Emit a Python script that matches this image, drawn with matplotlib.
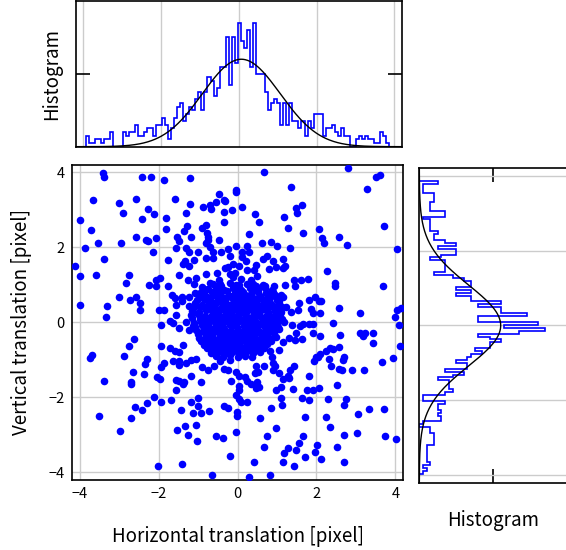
import numpy as np
import matplotlib
matplotlib.use('Agg')
import matplotlib.pyplot as plt

plt.rcParams['font.family'] = ['Noto Sans CJK JP', 'DejaVu Sans']

# scatter points (horizontal, vertical) shift in pixels
pairs = [
    # dense centre
    (-0.62,1.02),(-0.41,0.97),(-0.19,1.04),(0.03,0.99),(0.24,1.03),(0.46,0.96),(0.65,1.01),
    (-0.76,0.88),(-0.55,0.93),(-0.34,0.87),(-0.11,0.91),(0.08,0.86),(0.31,0.92),(0.51,0.88),(0.69,0.93),(0.87,0.87),
    (-0.86,0.78),(-0.65,0.82),(-0.46,0.77),(-0.27,0.83),(-0.06,0.79),(0.14,0.81),(0.34,0.76),(0.53,0.82),(0.71,0.78),(0.91,0.81),
    (-0.96,0.71),(-0.77,0.68),(-0.58,0.72),(-0.39,0.67),(-0.2,0.71),(0.01,0.69),(0.19,0.73),(0.37,0.68),(0.58,0.71),(0.77,0.67),(0.94,0.72),
    (-1.03,0.59),(-0.85,0.62),(-0.67,0.58),(-0.49,0.61),(-0.32,0.57),(-0.12,0.62),(0.05,0.58),(0.25,0.61),(0.43,0.57),(0.61,0.62),(0.81,0.59),(0.99,0.61),
    (-1.08,0.51),(-0.91,0.47),(-0.72,0.52),(-0.56,0.48),(-0.37,0.52),(-0.21,0.47),(-0.01,0.51),(0.16,0.48),(0.33,0.52),(0.51,0.47),(0.67,0.51),(0.86,0.48),(1.04,0.52),
    (-1.12,0.38),(-0.94,0.42),(-0.78,0.37),(-0.6,0.41),(-0.43,0.38),(-0.24,0.42),(-0.07,0.37),(0.1,0.41),(0.28,0.38),(0.44,0.42),(0.63,0.39),(0.79,0.41),(0.98,0.37),(1.13,0.42),
    (-1.15,0.31),(-0.97,0.28),(-0.81,0.32),(-0.62,0.27),(-0.46,0.31),(-0.27,0.28),(-0.11,0.32),(0.08,0.27),(0.23,0.31),(0.42,0.29),(0.59,0.32),(0.77,0.28),(0.94,0.31),(1.1,0.27),
    (-1.18,0.19),(-1.0,0.22),(-0.83,0.18),(-0.65,0.21),(-0.49,0.17),(-0.3,0.22),(-0.13,0.19),(0.04,0.22),(0.22,0.18),(0.41,0.21),(0.56,0.17),(0.75,0.21),(0.92,0.18),(1.08,0.22),
    (-1.15,0.11),(-0.96,0.08),(-0.8,0.12),(-0.63,0.09),(-0.44,0.12),(-0.27,0.08),(-0.09,0.11),(0.08,0.07),(0.26,0.12),(0.43,0.09),(0.61,0.11),(0.78,0.08),(0.96,0.12),(1.13,0.09),
    (-1.1,-0.01),(-0.92,0.02),(-0.75,-0.02),(-0.57,0.01),(-0.4,-0.03),(-0.22,0.02),(-0.05,-0.01),(0.13,0.03),(0.3,-0.02),(0.48,0.01),(0.65,-0.03),(0.83,0.02),(1.0,-0.01),(1.17,0.02),
    (-1.08,-0.11),(-0.9,-0.08),(-0.73,-0.12),(-0.54,-0.09),(-0.37,-0.12),(-0.19,-0.08),(-0.02,-0.11),(0.16,-0.09),(0.33,-0.12),(0.5,-0.08),(0.69,-0.11),(0.86,-0.09),(1.03,-0.12),
    (-1.05,-0.19),(-0.87,-0.22),(-0.7,-0.18),(-0.52,-0.21),(-0.34,-0.18),(-0.16,-0.22),(0.01,-0.19),(0.19,-0.21),(0.36,-0.17),(0.54,-0.22),(0.71,-0.19),(0.88,-0.21),(1.06,-0.18),
    (-1.0,-0.31),(-0.83,-0.28),(-0.65,-0.32),(-0.47,-0.29),(-0.3,-0.31),(-0.12,-0.27),(0.06,-0.32),(0.23,-0.28),(0.4,-0.31),(0.58,-0.29),(0.75,-0.32),(0.92,-0.28),
    (-0.97,-0.41),(-0.8,-0.38),(-0.61,-0.42),(-0.44,-0.39),(-0.26,-0.41),(-0.08,-0.38),(0.1,-0.42),(0.27,-0.39),(0.45,-0.41),(0.62,-0.38),(0.8,-0.42),(0.97,-0.39),
    (-0.92,-0.49),(-0.74,-0.52),(-0.56,-0.48),(-0.38,-0.51),(-0.2,-0.49),(-0.02,-0.52),(0.15,-0.48),(0.33,-0.51),(0.5,-0.48),(0.68,-0.52),(0.86,-0.49),
    (-0.85,-0.61),(-0.67,-0.58),(-0.49,-0.62),(-0.32,-0.59),(-0.14,-0.61),(0.04,-0.58),(0.21,-0.62),(0.39,-0.59),(0.56,-0.61),(0.74,-0.58),
    (-0.78,-0.69),(-0.6,-0.72),(-0.42,-0.68),(-0.24,-0.71),(-0.06,-0.69),(0.12,-0.72),(0.3,-0.68),(0.48,-0.71),(0.66,-0.69),
    (-0.68,-0.81),(-0.5,-0.78),(-0.32,-0.82),(-0.14,-0.79),(0.04,-0.81),(0.22,-0.78),(0.4,-0.82),(0.58,-0.79),
    (-0.55,-0.89),(-0.37,-0.92),(-0.18,-0.88),(0.0,-0.91),(0.18,-0.89),(0.36,-0.92),
    (-0.7,0.65),(-0.52,0.55),(-0.3,0.66),(-0.1,0.54),(0.12,0.65),(0.32,0.55),(0.52,0.66),(0.7,0.55),
    (-0.68,0.35),(-0.5,0.25),(-0.33,0.35),(-0.18,0.24),(0.0,0.34),(0.17,0.24),(0.35,0.35),(0.52,0.24),(0.7,0.35),
    (-0.7,0.05),(-0.48,-0.05),(-0.3,0.05),(-0.12,-0.06),(0.05,0.05),(0.22,-0.05),(0.4,0.05),(0.58,-0.05),(0.74,0.05),
    (-0.62,-0.25),(-0.42,-0.35),(-0.22,-0.25),(-0.04,-0.35),(0.14,-0.25),(0.32,-0.35),(0.48,-0.25),(0.66,-0.35),
    (-0.5,-0.55),(-0.28,-0.65),(-0.1,-0.55),(0.08,-0.65),(0.26,-0.55),(0.44,-0.65),(0.6,-0.55),
    (-0.88,0.45),(-0.86,0.15),(-0.84,-0.15),(-0.8,-0.45),(0.9,0.45),(0.88,0.15),(0.9,-0.15),(0.86,-0.45),
    (-0.45,0.85),(0.0,0.82),(0.42,0.86),(-0.45,-0.75),(0.0,-0.78),(0.42,-0.76),
    (-0.2,0.44),(0.2,0.45),(-0.22,-0.44),(0.2,-0.45),(-0.38,0.15),(0.36,0.14),(-0.36,-0.15),(0.34,-0.16),
    # outer points
    (-3.42,3.98),(-3.39,3.87),(-2.42,3.89),(-2.20,3.88),(-1.86,3.79),(-1.21,3.85),(0.68,4.0),(2.81,4.11),
    (3.52,3.88),(3.62,3.93),(3.28,3.56),(1.35,3.61),(-0.04,3.52),(-0.04,3.47),(-0.47,3.43),(-3.67,3.27),
    (-2.58,3.29),(-1.58,3.30),(-3.01,3.18),(-1.20,3.16),(-0.55,3.21),(-0.69,3.14),(-0.35,3.27),(-0.31,3.24),
    (-0.88,3.08),(0.12,3.08),(1.63,3.14),(1.47,3.05),(-0.68,3.02),(-2.26,3.02),(-2.89,2.92),(-2.11,2.90),
    (-1.31,2.93),(-0.35,2.95),(-0.15,2.99),(0.45,2.90),(1.50,2.92),(-3.99,2.72),(-2.43,2.76),(-1.82,2.78),
    (0.55,2.67),(-0.34,2.68),(1.18,2.81),(-1.82,2.50),(-1.28,2.56),(-0.89,2.53),(-0.81,2.59),(-1.36,2.45),
    (1.27,2.52),(2.06,2.49),(3.71,2.58),(-3.72,2.47),(0.30,2.36),(1.67,2.38),(-0.78,2.38),(-0.75,2.28),
    (-2.58,2.29),(-1.53,2.28),(-1.19,2.29),(-2.32,2.20),(-2.26,2.16),(-2.06,2.24),(-1.47,2.16),(2.14,2.26),
    (2.58,2.28),(2.19,2.12),(-0.47,2.19),(-0.79,2.12),(-0.74,2.19),(-3.54,2.12),(-2.95,2.13),(-1.57,1.98),
    (-1.30,1.98),(-1.24,1.89),(-1.00,1.89),(-3.86,1.98),(-2.14,1.88),(-0.69,2.01),(-0.62,1.89),(-0.23,1.96),
    (-0.03,2.04),(0.24,2.04),(0.63,2.12),(0.86,2.15),(0.99,2.03),(1.33,1.98),(2.77,2.07),(4.03,1.96),
    (-3.37,1.69),(-1.77,1.67),(-1.10,1.67),(-0.79,1.71),(-0.62,1.71),(-0.42,1.87),(-0.19,1.76),(0.11,1.89),
    (0.30,1.88),(0.12,1.74),(0.64,1.69),(0.74,1.78),(0.91,1.65),(1.16,1.69),(-1.34,1.63),(-1.37,1.56),
    (-1.22,1.51),(-4.11,1.51),(-0.23,1.49),(-0.32,1.45),(-0.11,1.56),(0.04,1.51),(0.21,1.65),(0.47,1.53),
    (0.79,1.43),(0.98,1.49),(1.14,1.45),(1.19,1.51),(-3.58,1.27),(-3.99,1.24),(-2.74,1.27),(-1.49,1.27),
    (-0.81,1.30),(-0.52,1.32),(-0.19,1.30),(-0.06,1.32),(0.23,1.40),(0.42,1.39),(-2.06,1.12),(-1.97,1.18),
    (-1.26,1.14),(-1.05,1.18),(-0.47,1.14),(-0.11,1.21),(0.08,1.16),(0.35,1.12),(0.50,1.23),(1.43,1.12),
    (1.62,1.12),(1.79,1.16),(2.26,1.37),(-2.82,1.05),(-2.25,1.00),(-2.06,0.96),(-1.75,0.98),(-1.10,1.03),
    (-0.90,0.94),(-0.84,0.89),(-0.69,1.05),(-0.45,1.03),(-0.03,1.00),(0.40,1.03),(0.69,0.98),(0.92,0.98),
    (1.21,1.01),(1.46,0.96),(2.46,1.05),(2.48,0.98),(3.68,0.96),(-3.99,0.47),(-2.99,0.69),(-2.72,0.59),
    (-2.57,0.68),(-2.47,0.52),(-2.48,0.32),(-3.31,0.43),(-3.33,0.14),(-1.67,0.74),(-1.58,0.65),(-1.40,0.69),
    (-1.08,0.78),(-0.92,0.80),(-0.86,0.87),(-1.56,0.47),(-1.41,0.56),(-1.23,0.69),(-1.23,0.43),(-1.99,0.32),
    (-1.87,0.34),(-1.93,-0.06),(-1.70,0.05),(-1.64,-0.02),(-1.56,0.20),(-1.47,-0.15),(-1.31,0.0),(-1.23,-0.21),
    (-1.13,-0.09),(1.22,0.41),(1.55,0.53),(1.80,0.60),(1.95,0.68),(2.06,0.56),(2.12,0.56),(1.86,0.36),
    (1.90,0.25),(2.08,0.25),(2.58,0.39),(1.53,0.34),(1.35,0.29),(1.04,0.60),(0.97,0.68),(0.84,0.80),
    (0.82,0.69),(1.14,0.69),(1.10,0.74),(3.09,0.25),(4.04,0.34),(4.13,0.38),(4.0,0.14),(4.08,-0.06),
    (4.11,-0.62),(3.94,-0.95),(3.66,-1.06),(2.43,-0.02),(2.60,-0.33),(2.08,-0.35),(1.92,-0.28),(1.92,-0.04),
    (1.80,-0.04),(1.67,-0.04),(1.57,-0.09),(1.37,-0.06),(1.64,-0.44),(1.46,-0.46),(1.30,-0.42),(1.48,-0.28),
    (3.11,-0.28),(3.19,-0.37),(3.24,-0.28),(3.43,-0.28),(3.43,-0.55),(2.35,-0.68),(2.25,-0.75),(2.43,-0.71),
    (2.58,-0.66),(2.69,-0.92),(2.68,-1.00),(2.10,-0.84),(2.0,-0.92),(1.93,-1.04),(2.05,-0.92),(2.31,-0.97),
    (2.56,-1.24),(2.64,-1.26),(2.90,-1.28),(3.21,-1.26),(2.53,-1.68),(2.36,-1.17),(1.80,-1.42),(1.33,-1.28),
    (1.44,-1.16),(1.28,-1.42),(1.31,-1.48),(1.16,-1.51),(1.10,-1.71),(1.40,-1.78),(1.77,-1.80),(1.92,-1.80),
    (2.07,-1.76),(1.63,-2.02),(1.80,-2.06),(2.29,-2.03),(2.76,-2.03),(2.69,-2.20),(3.33,-2.31),(3.70,-2.31),
    (3.04,-2.44),(1.71,-2.52),(2.24,-2.51),(2.33,-2.80),(2.52,-3.31),(2.69,-3.00),(3.03,-2.95),(3.73,-3.02),
    (4.01,-3.10),(2.01,-3.26),(1.97,-3.46),(2.11,-3.64),(2.69,-3.72),(1.65,-3.04),(1.56,-3.22),(1.48,-3.41),
    (1.70,-3.60),(1.42,-3.84),(1.27,-3.36),(1.18,-3.48),(1.14,-3.73),(0.97,-2.81),(0.86,-2.28),(0.74,-3.04),
    (0.68,-3.31),(0.82,-4.06),(0.30,-4.13),(0.42,-3.73),(0.57,-2.54),(-0.04,-2.93),(-0.01,-2.49),(-0.01,-2.40),
    (-0.18,-3.56),(-0.36,-3.09),(-0.55,-3.02),(-0.65,-4.06),(-0.72,-2.37),(-0.24,-2.28),(-0.34,-2.24),(0.04,-2.04),
    (0.08,-2.13),(0.23,-2.13),(-0.03,-1.93),(0.04,-1.80),(0.05,-1.69),(-0.17,-1.57),(-0.92,-2.42),(-1.0,-2.24),
    (-0.99,-2.02),(-1.13,-2.42),(-1.19,-2.13),(-1.04,-2.73),(-1.02,-3.17),(-1.25,-2.99),(-1.34,-2.77),(-1.53,-2.88),
    (-1.40,-3.77),(-1.44,-2.33),(-1.68,-2.06),(-1.95,-2.13),(-2.12,-1.99),(-2.30,-2.15),(-2.42,-2.33),(-2.60,-2.26),
    (-2.71,-2.54),(-2.97,-2.89),(-3.50,-2.49),(-2.01,-3.84),(-3.39,-1.57),(-2.71,-1.60),(-2.69,-1.64),(-2.64,-1.32),
    (-2.36,-1.38),(-2.30,-0.98),(-2.35,-1.10),(-1.95,-1.19),(-1.87,-1.07),(-2.03,-1.46),(-1.97,-1.50),(-1.57,-1.80),
    (-1.57,-1.53),(-1.47,-1.55),(-1.38,-1.64),(-1.35,-1.60),(-1.64,-1.02),(-1.49,-1.13),(-1.47,-1.04),(-1.19,-1.42),
    (-0.92,-1.58),(-1.30,-1.07),(-1.19,-1.00),(-1.04,-0.97),(-3.73,-0.95),(-3.68,-0.86),(-2.88,-0.89),(-2.75,-0.62),
    (-2.63,-0.44),(-1.72,-0.68),(-1.58,-0.77),(-1.47,-0.80),(-1.37,-0.60),(-1.93,-0.64),(-0.93,-0.46),(-0.91,-1.19),
    (-0.75,-1.26),(-0.60,-1.16),(-0.45,-1.04),(-0.35,-1.24),(-0.24,-1.28),(-0.19,-1.00),(-0.05,-1.33),(0.04,-1.44),
    (0.20,-1.46),(0.25,-1.57),(0.33,-1.64),(0.47,-1.76),(0.55,-1.71),(0.50,-1.60),(0.44,-1.35),(0.48,-1.16),
    (0.67,-1.17),(0.89,-1.07),(0.89,-1.28),(0.96,-1.17),(1.06,-1.35),(0.97,-1.80),(1.09,-2.02),(1.13,-2.20),
    (0.87,-0.91),(0.82,-0.77),(1.14,-0.53),(1.04,-0.73),(0.53,-1.33),
]
shift_x = [p[0] for p in pairs]
shift_y = [p[1] for p in pairs]

# top histogram (horizontal shift), 100 bins, counts
top_lo, top_hi = -3.93, 3.87
top_counts = [3, 1, 1, 2, 2, 1, 2, 2, 4, 0, 0, 0, 4, 3, 4, 4, 6, 3, 3, 4,
              5, 5, 3, 6, 6, 8, 6, 2, 5, 8, 11, 12, 7, 9, 11, 10, 13, 15, 10, 15,
              19, 18, 14, 16, 22, 22, 30, 17, 30, 23, 34, 29, 27, 32, 22, 34, 20, 20, 20, 15,
              10, 12, 13, 12, 6, 12, 6, 12, 7, 7, 5, 7, 3, 7, 5, 9, 9, 9, 3, 5,
              5, 6, 4, 3, 5, 3, 3, 0, 0, 2, 3, 2, 3, 2, 2, 1, 1, 4, 3, 1]
top_fit = (0.06, 1.0, 24.0)   # mean, sigma, peak

# right histogram (vertical shift), listed from top bin to bottom bin
right_lo, right_hi = -3.97, 3.85
right_counts_top_down = [5, 1, 1, 1, 4, 4, 4, 3, 3, 3, 7, 7, 1, 3, 3, 3, 3, 5, 4, 4,
                         7, 10, 5, 10, 10, 6, 3, 7, 7, 7, 7, 4, 9, 12, 14, 14, 10, 14, 10, 14,
                         14, 22, 16, 22, 22, 29, 16, 16, 32, 23, 34, 27, 16, 19, 22, 19, 19, 15, 17, 14,
                         13, 10, 13, 13, 7, 12, 9, 5, 8, 8, 8, 9, 7, 1, 1, 7, 5, 5, 6, 5,
                         6, 6, 1, 0, 3, 3, 4, 4, 4, 4, 2, 2, 2, 2, 2, 2, 3, 1, 2, 1]
right_fit = (0.0, 1.08, 22.0)

lim = 4.2
hist_max = 40

fig = plt.figure(figsize=(5.66, 5.5), dpi=100)
ax = fig.add_axes([0.1267, 0.1273, 0.5859, 0.5727])
ax_top = fig.add_axes([0.1337, 0.7333, 0.577, 0.265])
ax_right = fig.add_axes([0.7408, 0.1224, 0.2615, 0.5716])

grid_kw = dict(color='#cccccc', linewidth=1.0)

# main scatter
ax.scatter(shift_x, shift_y, s=30, color='blue', linewidths=0, zorder=3)
ax.set_xlim(-lim, lim)
ax.set_ylim(-lim, lim)
ax.set_xticks([-4, -2, 0, 2, 4])
ax.set_yticks([-4, -2, 0, 2, 4])
ax.grid(True, **grid_kw)
ax.set_axisbelow(True)
ax.tick_params(direction='in', length=0, labelsize=10.5, pad=5)
ax.set_xlabel('Horizontal translation [pixel]', fontsize=13.5, labelpad=18)
ax.set_ylabel('Vertical translation [pixel]', fontsize=13.5, labelpad=12)

# top histogram
edges = np.linspace(top_lo, top_hi, len(top_counts) + 1)
ax_top.stairs(top_counts, edges, color='blue', linewidth=1.2)
xs = np.linspace(-lim, lim, 400)
m, sd, pk = top_fit
ax_top.plot(xs, pk * np.exp(-(xs - m) ** 2 / (2 * sd ** 2)), color='black', linewidth=1.0)
ax_top.set_xlim(-lim, lim)
ax_top.set_ylim(0, hist_max)
ax_top.set_xticks([-4, -2, 0, 2, 4])
ax_top.set_yticks([hist_max / 2])
ax_top.xaxis.grid(True, **grid_kw)
ax_top.set_axisbelow(True)
ax_top.tick_params(axis='x', length=0, labelbottom=False)
ax_top.tick_params(axis='y', direction='in', length=10, left=True, right=True,
                   labelleft=False, width=1.2)
ax_top.set_ylabel('Histogram', fontsize=13.5, labelpad=10)

# right histogram
redges = np.linspace(right_lo, right_hi, len(right_counts_top_down) + 1)
right_counts = right_counts_top_down[::-1]
ax_right.stairs(right_counts, redges, orientation='horizontal', color='blue', linewidth=1.2)
ys = np.linspace(-lim, lim, 400)
m, sd, pk = right_fit
ax_right.plot(pk * np.exp(-(ys - m) ** 2 / (2 * sd ** 2)), ys, color='black', linewidth=1.0)
ax_right.set_ylim(-lim, lim)
ax_right.set_xlim(0, hist_max)
ax_right.set_yticks([-4, -2, 0, 2, 4])
ax_right.set_xticks([hist_max / 2])
ax_right.yaxis.grid(True, **grid_kw)
ax_right.set_axisbelow(True)
ax_right.tick_params(axis='y', length=0, labelleft=False)
ax_right.tick_params(axis='x', direction='in', length=10, bottom=True, top=True,
                     labelbottom=False, width=1.2)
ax_right.set_xlabel('Histogram', fontsize=13.5, labelpad=20)

for a in (ax, ax_top, ax_right):
    for sp in a.spines.values():
        sp.set_linewidth(1.2)

fig.savefig('out.png', dpi=100)
